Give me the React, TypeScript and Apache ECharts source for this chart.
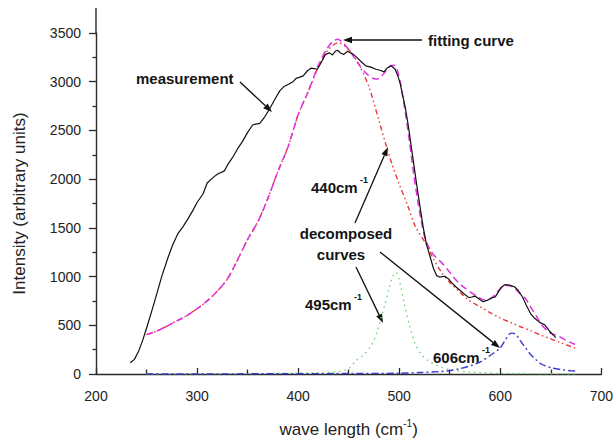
import React, { useEffect, useRef } from 'react';
import * as echarts from 'echarts';

const xTickLabels = [200, 300, 400, 500, 600, 700];
const yTickLabels = [0, 500, 1000, 1500, 2000, 2500, 3000, 3500];

const measurement: [number, number][] = [
  [234, 115], [238, 150], [242, 230], [246, 340], [250, 470], [255, 640], [260, 818], [265, 1000],
  [271, 1188], [276, 1330], [281, 1440], [286, 1510], [291, 1592], [296, 1682], [300, 1760], [306, 1850],
  [310, 1960], [316, 2018], [320, 2050], [327, 2085], [331, 2160], [335, 2220], [340, 2310], [345, 2388],
  [350, 2480], [355, 2556], [358, 2565], [362, 2573], [367, 2640], [372, 2725], [377, 2820], [382, 2909],
  [386, 2950], [391, 2977], [395, 3000], [398, 3035], [401, 3044], [405, 3060], [409, 3110], [413, 3140],
  [419, 3128], [423, 3200], [427, 3280], [431, 3296], [434, 3275], [437, 3315], [439, 3323], [442, 3295],
  [445, 3280], [449, 3313], [451, 3300], [454, 3286], [458, 3250], [463, 3200], [467, 3163], [472, 3150],
  [477, 3128], [481, 3118], [485, 3101], [488, 3140], [492, 3163], [496, 3128], [499, 3050], [501, 2980],
  [503, 2880], [506, 2736], [509, 2550], [512, 2332], [515, 2110], [518, 1895], [521, 1690], [524, 1491],
  [527, 1330], [531, 1188], [534, 1080], [537, 1010], [540, 995], [545, 1003], [549, 975], [552, 935],
  [556, 895], [561, 852], [565, 815], [569, 784], [572, 790], [575, 800], [579, 770], [583, 742],
  [587, 755], [591, 780], [595, 792], [598, 840], [601, 890], [605, 918], [609, 912], [614, 895],
  [618, 855], [622, 790], [626, 700], [630, 620], [634, 572], [639, 530], [644, 505], [648, 450],
  [651, 415], [655, 373]
];

const fittingCurve: [number, number][] = [
  [250, 404], [260, 440], [270, 490], [280, 545], [290, 600], [300, 670], [310, 750], [320, 850],
  [330, 975], [340, 1170], [350, 1380], [360, 1560], [370, 1800], [380, 2080], [390, 2330], [400, 2660],
  [410, 2900], [420, 3170], [428, 3330], [434, 3410], [439, 3435], [444, 3405], [450, 3330], [456, 3240],
  [462, 3150], [468, 3080], [473, 3040], [477, 3027], [481, 3040], [486, 3100], [491, 3160], [495, 3170],
  [498, 3120], [501, 3000], [504, 2820], [507, 2620], [510, 2400], [514, 2080], [518, 1800], [522, 1560],
  [526, 1379], [531, 1270], [536, 1200], [542, 1143], [548, 1070], [554, 990], [560, 925], [566, 875],
  [572, 830], [578, 790], [585, 757], [591, 775], [596, 830], [600, 875], [605, 908], [610, 905],
  [615, 870], [620, 820], [625, 774], [630, 690], [636, 590], [641, 505], [647, 440], [652, 410],
  [658, 387], [665, 345], [674, 303]
];

const peak440: [number, number][] = [
  [250, 404], [260, 440], [270, 490], [280, 545], [290, 600], [300, 670], [310, 750], [320, 850],
  [330, 975], [340, 1170], [350, 1380], [360, 1560], [370, 1800], [380, 2080], [390, 2330], [400, 2660],
  [410, 2900], [420, 3150], [430, 3330], [440, 3400], [450, 3330], [460, 3180], [470, 2950], [480, 2600],
  [487, 2350], [493, 2150], [500, 1950], [508, 1740], [516, 1514], [526, 1345], [534, 1180], [542, 1042],
  [550, 940], [560, 840], [569, 757], [580, 690], [590, 630], [600, 575], [610, 530], [620, 485],
  [630, 445], [640, 400], [650, 360], [660, 320], [675, 262]
];

const peak495: [number, number][] = [
  [250, 0], [300, 2], [350, 5], [400, 10], [430, 15], [440, 25], [450, 55], [457, 134], [465, 200],
  [473, 303], [478, 430], [482, 572], [486, 720], [490, 880], [494, 1010], [497, 1042], [500, 970],
  [505, 720], [510, 505], [516, 303], [522, 200], [529, 134], [540, 75], [550, 45], [570, 20],
  [600, 8], [640, 3], [675, 0]
];

const peak606: [number, number][] = [
  [250, 0], [350, 2], [450, 5], [500, 8], [520, 15], [540, 25], [549, 33], [560, 55], [572, 90],
  [582, 134], [590, 190], [600, 269], [605, 350], [609, 410], [612, 420], [616, 400], [620, 340],
  [625, 269], [630, 200], [635, 150], [641, 100], [650, 65], [660, 45], [670, 33], [675, 30]
];

const FONT = 'Liberation Sans, Arial, Helvetica, sans-serif';
const AXIS_COLOR = '#2a2a2a';

function arrow(x1: number, y1: number, x2: number, y2: number) {
  const a = Math.atan2(y2 - y1, x2 - x1);
  const len = 9;
  const hw = 3.2;
  const bx = x2 - len * Math.cos(a);
  const by = y2 - len * Math.sin(a);
  const px = -Math.sin(a) * hw;
  const py = Math.cos(a) * hw;
  return [
    {
      type: 'line',
      shape: { x1, y1, x2: bx, y2: by },
      style: { stroke: '#111', lineWidth: 1.3 },
      silent: true,
    },
    {
      type: 'polygon',
      shape: { points: [[x2, y2], [bx + px, by + py], [bx - px, by - py]] },
      style: { fill: '#111' },
      silent: true,
    },
  ];
}

function label(text: string, x: number, y: number, align = 'left', size = 15) {
  return {
    type: 'text',
    x,
    y,
    style: {
      text,
      fill: '#151515',
      font: `bold ${size}px ${FONT}`,
      align,
      verticalAlign: 'middle',
    },
    silent: true,
  };
}

export default function App() {
  const ref = useRef<HTMLDivElement>(null);

  useEffect(() => {
    if (!ref.current) return;
    const chart = echarts.init(ref.current, null, { renderer: 'svg' });
    const lineBase = { type: 'line', showSymbol: false, symbol: 'none', animation: false };
    const gridLeft = 96;
    const gridTop = 33;
    chart.setOption({
      animation: false,
      backgroundColor: '#ffffff',
      grid: { left: gridLeft, right: 13, top: gridTop, bottom: 63 },
      xAxis: {
        type: 'value',
        min: xTickLabels[0],
        max: xTickLabels[xTickLabels.length - 1],
        interval: 100,
        axisLine: { show: true, lineStyle: { color: AXIS_COLOR, width: 1.4 } },
        axisTick: { show: true, inside: true, length: 6, lineStyle: { color: AXIS_COLOR, width: 1.3 } },
        minorTick: { show: true, splitNumber: 2, length: 4.5, lineStyle: { color: AXIS_COLOR, width: 1.3 } },
        splitLine: { show: false },
        axisLabel: { fontSize: 14, color: '#222', margin: 15, fontFamily: FONT },
        name: '{n|wave length (cm}{s|-1}{n|)}',
        nameLocation: 'middle',
        nameGap: 44,
        nameTextStyle: {
          rich: {
            n: { fontSize: 17, color: '#222', fontFamily: FONT, lineHeight: 20, verticalAlign: 'bottom' },
            s: { fontSize: 10, color: '#222', fontFamily: FONT, lineHeight: 12, verticalAlign: 'top' },
          },
        },
      },
      yAxis: {
        type: 'value',
        min: yTickLabels[0],
        max: yTickLabels[yTickLabels.length - 1],
        interval: 500,
        axisLine: { show: true, lineStyle: { color: AXIS_COLOR, width: 1.4 } },
        axisTick: { show: true, length: 7, lineStyle: { color: AXIS_COLOR, width: 1.3 } },
        minorTick: { show: true, splitNumber: 2, length: 3.5, lineStyle: { color: AXIS_COLOR, width: 1.3 } },
        axisLabel: {
          fontSize: 14,
          color: '#222',
          margin: 15,
          fontFamily: FONT,
          formatter: (v: number) => String(v),
        },
        splitLine: { show: false },
        name: 'Intensity (arbitrary units)',
        nameLocation: 'middle',
        nameGap: 68,
        nameRotate: 90,
        nameTextStyle: { fontSize: 17, color: '#222', fontFamily: FONT },
      },
      series: [
        {
          ...lineBase,
          name: '440cm-1',
          data: peak440,
          smooth: 0.3,
          lineStyle: { color: '#e8383a', width: 1.4, type: [5, 3, 1.5, 3, 1.5, 3] },
          z: 2,
        },
        {
          ...lineBase,
          name: '495cm-1',
          data: peak495,
          smooth: 0.3,
          lineStyle: { color: '#6ad874', width: 1.4, type: [1.5, 4] },
          z: 2,
        },
        {
          ...lineBase,
          name: '606cm-1',
          data: peak606,
          smooth: 0.3,
          lineStyle: { color: '#3a3ad0', width: 1.4, type: [7, 3, 2, 3] },
          z: 2,
        },
        {
          ...lineBase,
          name: 'fitting curve',
          data: fittingCurve,
          smooth: 0.3,
          lineStyle: { color: '#e030e0', width: 1.5, type: [7, 4] },
          z: 3,
        },
        {
          ...lineBase,
          name: 'measurement',
          data: measurement,
          lineStyle: { color: '#111', width: 1.2, type: 'solid' },
          z: 4,
        },
      ],
      graphic: [
        {
          type: 'line',
          shape: { x1: gridLeft, y1: 8, x2: gridLeft, y2: gridTop },
          style: { stroke: AXIS_COLOR, lineWidth: 1.4 },
          silent: true,
        },
        label('measurement', 136, 78),
        ...arrow(240, 82, 272, 112),
        label('fitting curve', 428, 40),
        ...arrow(422, 40, 343, 40),
        label('440cm', 311, 187),
        label('-1', 360, 180, 'left', 9),
        ...arrow(355, 223, 388, 147),
        label('decomposed', 346, 233, 'center'),
        label('curves', 341, 254, 'center'),
        ...arrow(356, 267, 383, 323),
        ...arrow(380, 252, 500, 348),
        label('495cm', 305, 304),
        label('-1', 354, 297, 'left', 9),
        label('606cm', 433, 357),
        label('-1', 482, 350, 'left', 9),
      ],
    });
    return () => chart.dispose();
  }, []);

  return (
    <div
      ref={ref}
      style={{ position: 'fixed', left: 0, top: 0, width: 616, height: 443, background: '#fff' }}
    />
  );
}
